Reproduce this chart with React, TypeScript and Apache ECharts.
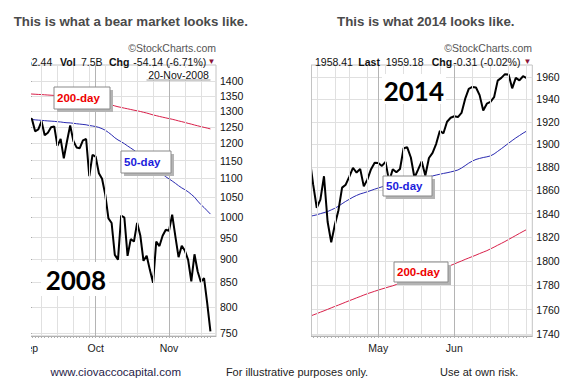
import React, { useEffect, useRef } from "react";
import * as echarts from "echarts";

const FONT = '"Liberation Sans", Arial, sans-serif';
const BIG = 'Lato, "Open Sans", sans-serif';

// ---------- 2008 (S&P 500, daily) ----------
const dates2008 = [
  "2008-09-02", "2008-09-03", "2008-09-04", "2008-09-05", "2008-09-08", "2008-09-09", "2008-09-10", "2008-09-11",
  "2008-09-12", "2008-09-15", "2008-09-16", "2008-09-17", "2008-09-18", "2008-09-19", "2008-09-22", "2008-09-23",
  "2008-09-24", "2008-09-25", "2008-09-26", "2008-09-29", "2008-09-30",
  "2008-10-01", "2008-10-02", "2008-10-03", "2008-10-06", "2008-10-07", "2008-10-08", "2008-10-09", "2008-10-10",
  "2008-10-13", "2008-10-14", "2008-10-15", "2008-10-16", "2008-10-17", "2008-10-20", "2008-10-21", "2008-10-22",
  "2008-10-23", "2008-10-24", "2008-10-27", "2008-10-28", "2008-10-29", "2008-10-30", "2008-10-31",
  "2008-11-03", "2008-11-04", "2008-11-05", "2008-11-06", "2008-11-07", "2008-11-10", "2008-11-11", "2008-11-12",
  "2008-11-13", "2008-11-14", "2008-11-17", "2008-11-18", "2008-11-19", "2008-11-20",
];
const close2008 = [
  1277.58, 1274.98, 1236.83, 1242.31, 1267.79, 1224.51, 1232.04, 1249.05,
  1251.7, 1192.7, 1213.6, 1156.39, 1206.51, 1255.08, 1207.09, 1188.22,
  1185.87, 1209.18, 1213.27, 1106.42, 1166.36,
  1161.06, 1114.28, 1099.23, 1056.89, 996.23, 984.94, 909.92, 899.22,
  1003.35, 998.01, 907.84, 946.43, 940.55, 985.4, 955.05, 896.78,
  908.11, 876.77, 848.92, 940.51, 930.09, 954.09, 968.75,
  966.3, 1005.75, 952.77, 904.88, 930.99, 919.21, 898.95, 852.3,
  911.29, 873.29, 850.75, 859.12, 806.58, 752.44,
];
const ma50_2008 = [
  1274.5, 1273.6, 1272.4, 1271.5, 1270.9, 1269.8, 1269.0, 1268.3,
  1267.6, 1266.5, 1265.7, 1264.2, 1263.3, 1262.8, 1261.6, 1260.2,
  1259.1, 1258.0, 1256.9, 1254.6, 1253.2,
  1251.3, 1248.7, 1244.8, 1240.1, 1233.2, 1225.6, 1217.1, 1210.4,
  1205.3, 1199.2, 1192.6, 1186.4, 1180.1, 1172.9, 1165.8, 1158.3,
  1150.9, 1143.0, 1134.6, 1127.4, 1120.1, 1111.8, 1104.7,
  1098.9, 1093.2, 1087.0, 1080.5, 1074.6, 1069.8, 1064.3, 1057.5,
  1050.2, 1040.1, 1031.0, 1023.6, 1015.2, 1007.0,
];
const ma200_2008 = [
  1357.2, 1356.6, 1355.9, 1355.3, 1354.8, 1354.0, 1353.3, 1352.6,
  1351.9, 1350.8, 1349.8, 1348.4, 1347.2, 1346.3, 1344.9, 1343.4,
  1341.8, 1340.3, 1338.9, 1336.8, 1335.0,
  1333.1, 1330.9, 1328.6, 1326.0, 1323.1, 1320.4, 1317.2, 1314.4,
  1312.3, 1309.9, 1307.8, 1305.6, 1303.3, 1301.4, 1299.1, 1296.5,
  1294.1, 1291.2, 1288.1, 1285.7, 1283.2, 1280.9, 1278.6,
  1276.4, 1274.3, 1271.8, 1269.1, 1266.7, 1264.2, 1261.4, 1259.0,
  1256.2, 1253.7, 1251.3, 1248.9, 1246.6, 1244.1,
];
const monthTickDates2008 = ["2008-09-02", "2008-10-01", "2008-11-03"];
const monthNames2008 = ["Sep", "Oct", "Nov"];
const yTicks2008 = [750, 800, 850, 900, 950, 1000, 1050, 1100, 1150, 1200, 1250, 1300, 1350, 1400];

// ---------- 2014 (S&P 500, daily) ----------
const dates2014 = [
  "2014-04-02", "2014-04-03", "2014-04-04", "2014-04-07", "2014-04-08", "2014-04-09", "2014-04-10", "2014-04-11",
  "2014-04-14", "2014-04-15", "2014-04-16", "2014-04-17", "2014-04-21", "2014-04-22", "2014-04-23", "2014-04-24",
  "2014-04-25", "2014-04-28", "2014-04-29", "2014-04-30",
  "2014-05-01", "2014-05-02", "2014-05-05", "2014-05-06", "2014-05-07", "2014-05-08", "2014-05-09", "2014-05-12",
  "2014-05-13", "2014-05-14", "2014-05-15", "2014-05-16", "2014-05-19", "2014-05-20", "2014-05-21", "2014-05-22",
  "2014-05-23", "2014-05-27", "2014-05-28", "2014-05-29", "2014-05-30",
  "2014-06-02", "2014-06-03", "2014-06-04", "2014-06-05", "2014-06-06", "2014-06-09", "2014-06-10", "2014-06-11",
  "2014-06-12", "2014-06-13", "2014-06-16", "2014-06-17", "2014-06-18", "2014-06-19", "2014-06-20", "2014-06-23",
  "2014-06-24", "2014-06-25", "2014-06-26", "2014-06-27", "2014-06-30",
];
const close2014 = [
  1890.9, 1888.77, 1865.09, 1845.04, 1851.96, 1872.18, 1833.08, 1815.69,
  1830.61, 1842.98, 1862.31, 1864.85, 1871.89, 1879.55, 1875.39, 1878.61,
  1863.4, 1869.43, 1878.33, 1883.95,
  1883.68, 1881.14, 1884.66, 1867.72, 1878.21, 1875.63, 1878.48, 1896.65,
  1897.45, 1888.53, 1870.85, 1877.86, 1885.08, 1872.83, 1888.03, 1892.49,
  1900.53, 1911.91, 1909.78, 1920.03, 1923.57,
  1924.97, 1924.24, 1927.88, 1940.46, 1949.44, 1951.27, 1950.79, 1943.89,
  1930.11, 1936.16, 1937.78, 1941.99, 1956.98, 1959.48, 1962.87, 1962.61,
  1949.98, 1959.53, 1957.22, 1960.96, 1959.18,
];
const ma50_2014 = [
  1837.0, 1837.6, 1838.3, 1839.0, 1840.0, 1840.9, 1841.8, 1843.2,
  1844.6, 1846.4, 1848.5, 1850.5, 1852.3, 1854.1, 1855.6, 1856.9,
  1857.8, 1858.8, 1859.9, 1861.0,
  1862.0, 1863.0, 1863.9, 1864.6, 1865.4, 1866.3, 1867.1, 1868.0,
  1868.8, 1869.5, 1870.0, 1870.4, 1870.9, 1871.3, 1871.7, 1872.4,
  1873.2, 1873.9, 1874.6, 1875.2, 1875.9,
  1876.7, 1877.6, 1879.3, 1881.4, 1883.6, 1885.4, 1886.8, 1887.7,
  1888.5, 1889.1, 1889.9, 1891.6, 1893.9, 1896.2, 1898.6, 1901.0,
  1903.4, 1905.7, 1907.8, 1909.9, 1911.8,
];
const ma200_2014 = [
  1753.2, 1754.4, 1755.6, 1756.7, 1757.9, 1759.0, 1760.2, 1761.4,
  1762.6, 1763.7, 1764.9, 1766.1, 1767.3, 1768.4, 1769.6, 1770.7,
  1771.9, 1773.0, 1774.0, 1775.0,
  1776.0, 1776.9, 1777.8, 1778.7, 1779.5, 1780.6, 1781.7, 1782.8,
  1783.9, 1784.9, 1786.0, 1787.1, 1788.1, 1789.1, 1790.1, 1791.2,
  1792.3, 1793.3, 1794.4, 1795.4, 1796.4,
  1797.6, 1798.9, 1800.1, 1801.4, 1802.6, 1803.8, 1805.0, 1806.3,
  1807.5, 1808.7, 1810.2, 1811.7, 1813.3, 1814.8, 1816.4, 1818.1,
  1819.8, 1821.5, 1823.2, 1824.9, 1826.5,
];
const monthTickDates2014 = ["2014-05-01", "2014-06-02"];
const monthNames2014 = ["May", "Jun"];
const yTicks2014 = [1740, 1760, 1780, 1800, 1820, 1840, 1860, 1880, 1900, 1920, 1940, 1960];

// ---------- helpers ----------
function weekStarts(dates: string[]): number[] {
  const out: number[] = [];
  for (let i = 1; i < dates.length; i++) {
    const a = new Date(dates[i - 1] + "T00:00:00Z");
    const b = new Date(dates[i] + "T00:00:00Z");
    const gap = (b.getTime() - a.getTime()) / 864e5;
    if (b.getUTCDay() <= a.getUTCDay() || gap >= 7) out.push(i);
  }
  return out;
}

function txt(x: number, y: number, text: string, opts: any = {}) {
  const align = opts.align || "left";
  return {
    type: "text",
    x,
    y,
    z: opts.z ?? 20,
    style: {
      text,
      fill: opts.color || "#111",
      font: opts.font || `10.5px ${FONT}`,
      align,
      verticalAlign: "middle",
      textAlign: align,
      textVerticalAlign: "middle",
    },
  };
}

function labelBox(x: number, y: number, w: number, h: number, text: string, color: string) {
  return [
    { type: "rect", z: 18, shape: { x: x + 3, y: y + 3, width: w, height: h }, style: { fill: "#b4b4b4" } },
    { type: "rect", z: 19, shape: { x, y, width: w, height: h }, style: { fill: "#fff", stroke: "#8a8a8a", lineWidth: 1 } },
    txt(x + 3, y + h / 2, text, { color, font: `bold 11.5px ${FONT}` }),
  ];
}

function vLines(values: number[], color: string, z: number) {
  return {
    type: "line",
    xAxisIndex: 0,
    data: [],
    symbol: "none",
    silent: true,
    z,
    markLine: {
      silent: true,
      symbol: ["none", "none"],
      label: { show: false },
      emphasis: { disabled: true },
      animation: false,
      lineStyle: { color, width: 1, type: "solid" },
      data: values.map((v) => ({ xAxis: v })),
    },
  };
}

function makeOption(cfg: any) {
  const { dates, close, ma50, ma200, monthDates, monthNames, yTicks, yMin, yMax, xMax, gridLeft, gridRight, graphics } = cfg;
  const idx = dates.map((_: string, i: number) => i);
  const months = monthDates.map((d: string) => dates.indexOf(d));
  const weeks = weekStarts(dates).filter((i) => months.indexOf(i) < 0);
  const xBase = { type: "value", min: 0, max: xMax, position: "bottom", gridIndex: 0 };
  const pts = (arr: number[]) => arr.map((v, i) => [i, v]);
  return {
    animation: false,
    grid: {
      left: gridLeft, right: gridRight, top: 65, bottom: 50,
      show: true, borderColor: "#c4c4c4", borderWidth: 1, backgroundColor: "transparent",
    },
    xAxis: [
      {
        ...xBase,
        axisLine: { show: true, lineStyle: { color: "#b0b0b0" } },
        axisTick: { show: true, customValues: idx, length: 2, lineStyle: { color: "#b0b0b0" } },
        axisLabel: {
          show: true,
          customValues: months,
          formatter: (v: number) => monthNames[months.indexOf(Math.round(v))] ?? "",
          margin: 6,
          fontSize: 10.5,
          fontFamily: FONT,
          color: "#1a1a1a",
        },
        splitLine: { show: false },
      },
    ],
    yAxis: {
      type: "log",
      logBase: 10,
      min: yMin,
      max: yMax,
      position: "right",
      axisLine: { show: true, lineStyle: { color: "#b0b0b0" } },
      axisTick: { show: true, customValues: yTicks, length: 3, lineStyle: { color: "#999" } },
      axisLabel: {
        customValues: yTicks,
        formatter: (v: number) => String(Math.round(v)),
        margin: 4,
        fontSize: 10.5,
        fontFamily: FONT,
        color: "#111",
      },
      splitLine: { show: true, lineStyle: { color: "#e0e0e0" } },
    },
    series: [
      vLines(weeks, "#e0e0e0", 1),
      vLines(months, "#b4b4b4", 1),
      { type: "line", xAxisIndex: 0, data: pts(ma200), symbol: "none", z: 3, lineStyle: { color: "#d8204a", width: 1 } },
      { type: "line", xAxisIndex: 0, data: pts(ma50), symbol: "none", z: 3, lineStyle: { color: "#2a2ab0", width: 1 } },
      { type: "line", xAxisIndex: 0, data: pts(close), symbol: "none", z: 4, lineStyle: { color: "#000", width: 2 } },
    ],
    graphic: graphics,
  };
}

// page x -> chart x offsets
const OFF_L = -40; // left chart div starts at page x = -40
const OFF_R = 270; // right chart div starts at page x = 270

function leftGraphics() {
  const o = OFF_L;
  const g: any[] = [
    txt(216 - o, 47.5, "©StockCharts.com", { align: "right", color: "#555", font: `10.5px ${FONT}` }),
    txt(20.1 - o, 61.5, "752.44"),
    txt(60 - o, 61.5, "Vol", { font: `bold 10.5px ${FONT}` }),
    txt(81 - o, 61.5, "7.5B"),
    txt(109 - o, 61.5, "Chg", { font: `bold 10.5px ${FONT}` }),
    txt(133.3 - o, 61.5, "-54.14 (-6.71%)"),
    txt(211.5 - o, 61, "▼", { align: "center", color: "#8b1538", font: `8px ${FONT}` }),
    { type: "rect", z: 18, shape: { x: 146.5 - o, y: 68, width: 64, height: 12 }, style: { fill: "#fff" } },
    txt(178.5 - o, 74.5, "20-Nov-2008", { align: "center" }),
    { type: "line", z: 19, shape: { x1: 146.5 - o, y1: 80, x2: 210.5 - o, y2: 80 }, style: { stroke: "#9a9a9a", lineWidth: 1 } },
    { type: "rect", z: 18, shape: { x: 41 - o, y: 262, width: 68, height: 34 }, style: { fill: "#fff" } },
    txt(75.8 - o, 280, "2008", { align: "center", color: "#000", font: `bold 26px ${BIG}` }),
  ];
  g.push(...labelBox(54 - o, 87, 56, 22, "200-day", "#ee0000"));
  g.push(...labelBox(121 - o, 151, 50, 22, "50-day", "#1c1cdc"));
  return g;
}

function rightGraphics() {
  const o = OFF_R;
  const g: any[] = [
    txt(532 - o, 47.5, "©StockCharts.com", { align: "right", color: "#555", font: `10.5px ${FONT}` }),
    txt(315 - o, 61.5, "1958.41"),
    txt(358.3 - o, 61.5, "Last", { font: `bold 10.5px ${FONT}` }),
    txt(385.7 - o, 61.5, "1959.18"),
    txt(431.7 - o, 61.5, "Chg", { font: `bold 10.5px ${FONT}` }),
    txt(453.3 - o, 61.5, "-0.31 (-0.02%)"),
    txt(527.5 - o, 61, "▼", { align: "center", color: "#8b1538", font: `8px ${FONT}` }),
    { type: "line", z: 5, shape: { x1: 311.5 - o, y1: 65, x2: 311.5 - o, y2: 336 }, style: { stroke: "#c4c4c4", lineWidth: 1 } },
    { type: "rect", z: 18, shape: { x: 382 - o, y: 74, width: 64, height: 30 }, style: { fill: "#fff" } },
    txt(413.8 - o, 90.5, "2014", { align: "center", color: "#000", font: `bold 26px ${BIG}` }),
  ];
  g.push(...labelBox(383 - o, 176, 49, 20, "50-day", "#1c1cdc"));
  g.push(...labelBox(394 - o, 262, 54, 20, "200-day", "#ee0000"));
  return g;
}

const overlayGraphics = [
  txt(130.8, 21, "This is what a bear market looks like.", { align: "center", color: "#4a4a4a", font: `bold 13.3px ${FONT}` }),
  txt(425.8, 21, "This is what 2014 looks like.", { align: "center", color: "#4a4a4a", font: `bold 13.3px ${FONT}` }),
  txt(115.8, 371.7, "www.ciovaccocapital.com", { align: "center", color: "#1f2248", font: `11.5px ${FONT}` }),
  txt(297, 371.7, "For illustrative purposes only.", { align: "center", color: "#222", font: `11px ${FONT}` }),
  txt(479.2, 371.7, "Use at own risk.", { align: "center", color: "#222", font: `11px ${FONT}` }),
];

export default function App() {
  const leftRef = useRef<HTMLDivElement>(null);
  const rightRef = useRef<HTMLDivElement>(null);
  const overRef = useRef<HTMLDivElement>(null);

  useEffect(() => {
    const l = echarts.init(leftRef.current!, null, { renderer: "svg" });
    l.setOption(
      makeOption({
        dates: dates2008, close: close2008, ma50: ma50_2008, ma200: ma200_2008,
        monthDates: monthTickDates2008, monthNames: monthNames2008, yTicks: yTicks2008,
        yMin: 744, yMax: 1458, xMax: 58.75,
        gridLeft: 28.75 - OFF_L, gridRight: 300 - (216 - OFF_L),
        graphics: leftGraphics(),
      })
    );
    const r = echarts.init(rightRef.current!, null, { renderer: "svg" });
    r.setOption(
      makeOption({
        dates: dates2014, close: close2014, ma50: ma50_2014, ma200: ma200_2014,
        monthDates: monthTickDates2014, monthNames: monthNames2014, yTicks: yTicks2014,
        yMin: 1738.6, yMax: 1971.2, xMax: 62.56,
        gridLeft: 305.9 - OFF_R, gridRight: 300 - (532.3 - OFF_R),
        graphics: rightGraphics(),
      })
    );
    const ov = echarts.init(overRef.current!, null, { renderer: "svg" });
    ov.setOption({ animation: false, graphic: overlayGraphics });
    return () => {
      l.dispose();
      r.dispose();
      ov.dispose();
    };
  }, []);

  return (
    <div style={{ position: "fixed", left: 0, top: 0, width: 580, height: 386, background: "#fff", overflow: "hidden" }}>
      <div style={{ position: "absolute", left: 31, top: 0, width: 229, height: 386, overflow: "hidden" }}>
        <div ref={leftRef} style={{ position: "absolute", left: OFF_L - 31, top: 0, width: 300, height: 386 }} />
      </div>
      <div style={{ position: "absolute", left: 311, top: 0, width: 269, height: 386, overflow: "hidden" }}>
        <div ref={rightRef} style={{ position: "absolute", left: OFF_R - 311, top: 0, width: 300, height: 386 }} />
      </div>
      <div ref={overRef} style={{ position: "absolute", left: 0, top: 0, width: 580, height: 386, pointerEvents: "none" }} />
    </div>
  );
}
